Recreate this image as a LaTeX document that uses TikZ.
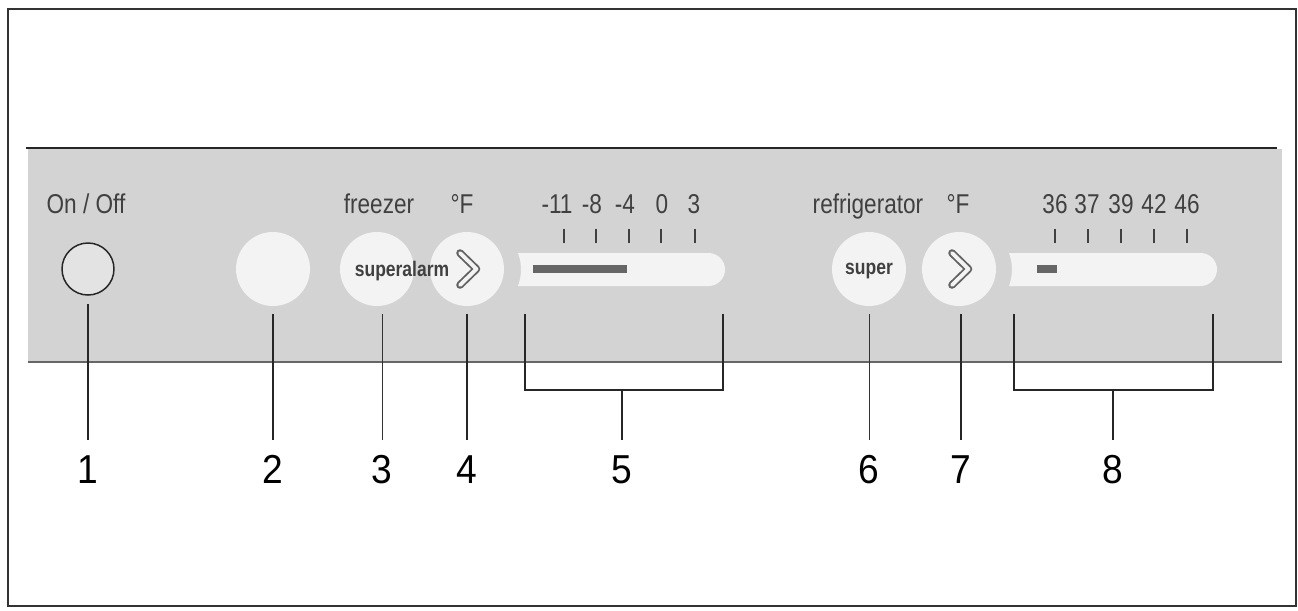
\documentclass[tikz,border=0pt]{standalone}
\usepackage{fontspec}
\setmainfont[FakeStretch=0.92]{Liberation Sans}
\newfontfamily\narrowsans[FakeStretch=0.83]{Liberation Sans}
\usetikzlibrary{calc}
\definecolor{panelgray}{HTML}{D3D3D3}
\definecolor{keywhite}{HTML}{F3F3F3}
\definecolor{inkgray}{HTML}{404040}
\begin{document}
\begin{tikzpicture}[
    x=0.02cm, y=-0.02cm,
    key/.style={circle, fill=keywhite, minimum size=1.48cm, inner sep=0pt},
    keytxt/.style={font=\narrowsans\fontsize{12}{14}\selectfont\bfseries, text=inkgray, anchor=base, inner sep=0pt},
    paneltxt/.style={font=\narrowsans\fontsize{15.5}{18}\selectfont, text=inkgray, anchor=base, inner sep=0pt},
    numlbl/.style={font=\fontsize{23}{26}\selectfont, anchor=north, inner xsep=0pt, inner ysep=8.5pt},
    leader/.style={line width=1.1pt, black!85},
    thinleader/.style={line width=0.55pt, black!80},
    scaletick/.style={line width=0.8pt, inkgray},
    chev/.style={draw=black!62, double=keywhite, double distance=2.2pt, line width=1.05pt,
                 line join=round, line cap=round},
    setbar/.style={line width=4pt, black!60}
  ]
    \useasboundingbox (0,0) rectangle (1298,610);
    \draw[line width=0.9pt, black!80] (8,9) rectangle (1296,606);
    \fill[panelgray] (28,149) rectangle (1282,362);
    \draw[line width=1.2pt, black!85] (26,148) -- (1277,148);
    \draw[line width=0.7pt, black!60] (28,362) -- (1282,362);

    \node[circle, draw=black!85, line width=0.85pt, fill=black!11,
          minimum size=1.04cm, inner sep=0pt] (onoff) at (88,269) {};
    \node[key] (alarmkey) at (273,269) {};
    \node[key] (fsuper) at (377,269) {};
    \node[key] (fchev) at (467,269) {};
    \node[key] (rsuper) at (869,269) {};
    \node[key] (rchev) at (959,269) {};

    \draw[chev] ($(fchev)+(-7,-16)$) -- ($(fchev)+(9.5,0)$) -- ($(fchev)+(-7,16)$);
    \draw[chev] ($(rchev)+(-7,-16)$) -- ($(rchev)+(9.5,0)$) -- ($(rchev)+(-7,16)$);
    \node[keytxt] (alarmtxt) at (402,276) {superalarm};
    \node[keytxt] (supertxt) at (869,274) {super};

    \fill[keywhite] (518,253) -- (708.5,253) arc[start angle=-90, end angle=90, radius=16.5]
      -- (518,286) .. controls (522,275) and (522,264) .. (518,253) -- cycle;
    \fill[keywhite] (1009,253) -- (1200.5,253) arc[start angle=-90, end angle=90, radius=16.5]
      -- (1009,286) .. controls (1013,275) and (1013,264) .. (1009,253) -- cycle;
    \draw[setbar] (533,269) -- (627,269);
    \draw[setbar] (1037,269) -- (1057,269);

    \draw[scaletick] (564,229) -- (564,243) (596,229) -- (596,243) (629,229) -- (629,243)
      (661,229) -- (661,243) (695,229) -- (695,243);
    \draw[scaletick] (1055,229) -- (1055,243) (1088,229) -- (1088,243) (1121,229) -- (1121,243)
      (1154,229) -- (1154,243) (1187,229) -- (1187,243);

    \node[paneltxt] (onofftxt) at (86,213) {On / Off};
    \node[paneltxt] (freezertxt) at (379,213) {freezer};
    \node[paneltxt] (funit) at (462,213) {°F};
    \node[paneltxt] (fm11) at (557,213) {-11};
    \node[paneltxt] (fm8) at (592,213) {-8};
    \node[paneltxt] (fm4) at (625,213) {-4};
    \node[paneltxt] (f0) at (662,213) {0};
    \node[paneltxt] (f3) at (694,213) {3};
    \node[paneltxt] (fridgetxt) at (868,213) {refrigerator};
    \node[paneltxt] (runit) at (958,213) {°F};
    \node[paneltxt] (r36) at (1055,213) {36};
    \node[paneltxt] (r37) at (1087,213) {37};
    \node[paneltxt] (r39) at (1121,213) {39};
    \node[paneltxt] (r42) at (1154,213) {42};
    \node[paneltxt] (r46) at (1187,213) {46};

    \node[numlbl] (l1) at (88,440) {1};
    \node[numlbl] (l2) at (273,440) {2};
    \node[numlbl] (l3) at (382,440) {3};
    \node[numlbl] (l4) at (467,440) {4};
    \node[numlbl] (l5) at (622,440) {5};
    \node[numlbl] (l6) at (869,440) {6};
    \node[numlbl] (l7) at (961,440) {7};
    \node[numlbl] (l8) at (1113,440) {8};

    \draw[leader] ($(onoff.south)+(0,8)$) -- (l1.north);
    \draw[leader] ($(alarmkey.south)+(0,8)$) -- (l2.north);
    \draw[thinleader] ($(fsuper.south)+(5,8)$) -- (l3.north);
    \draw[leader] ($(fchev.south)+(0,8)$) -- (l4.north);
    \draw[thinleader] ($(rsuper.south)+(0,8)$) -- (l6.north);
    \draw[leader] ($(rchev.south)+(2,8)$) -- (l7.north);

    \coordinate (b5l) at (525,314);
    \coordinate (b5r) at (723,314);
    \coordinate (b5m) at (622,390);
    \draw[leader] (b5l) |- (b5m) -| (b5r);
    \draw[leader] (b5m) -- (l5.north);
    \coordinate (b8l) at (1014,314);
    \coordinate (b8r) at (1213,314);
    \coordinate (b8m) at (1113,390);
    \draw[leader] (b8l) |- (b8m) -| (b8r);
    \draw[leader] (b8m) -- (l8.north);
  \end{tikzpicture}
\end{document}
